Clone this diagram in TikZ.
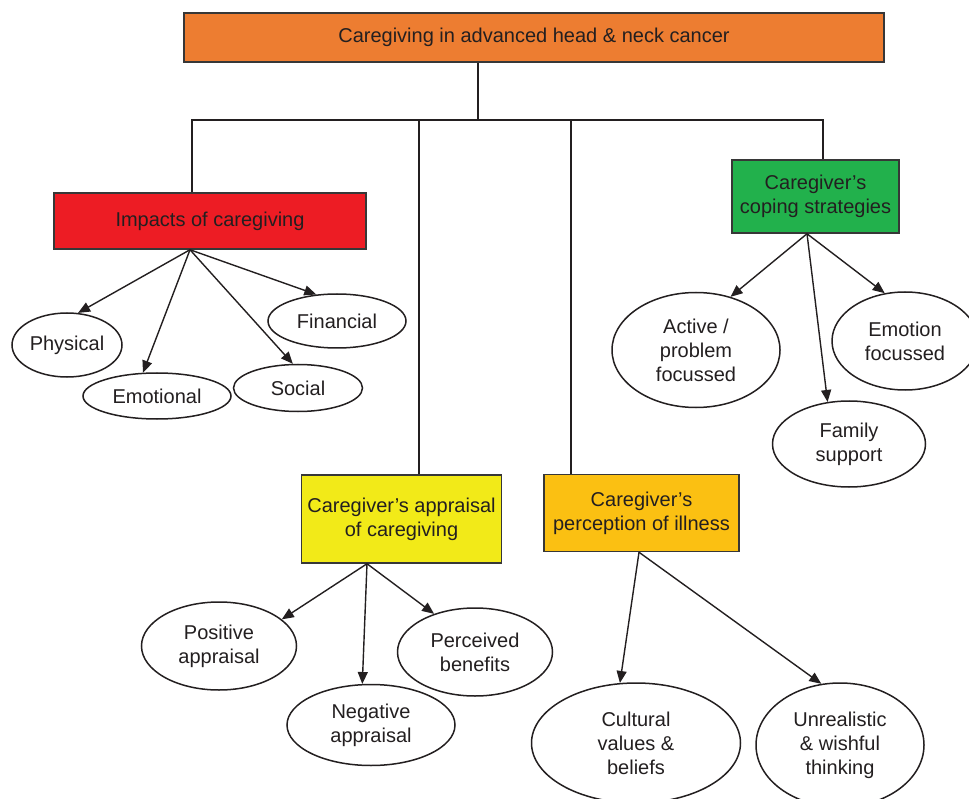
\documentclass[tikz,border=0pt]{standalone}
\usepackage{fontspec}
\setmainfont{Liberation Sans}
\usepackage{xcolor}
\definecolor{InkBlack}{RGB}{35, 31, 32}
\definecolor{BoxGrey}{RGB}{55, 55, 55}
\definecolor{RootOrange}{RGB}{237, 125, 49}
\definecolor{ImpactRed}{RGB}{237, 28, 36}
\definecolor{CopeGreen}{RGB}{34, 177, 76}
\definecolor{AppraiseYellow}{RGB}{242, 234, 24}
\definecolor{PerceiveAmber}{RGB}{251, 192, 18}
\usetikzlibrary{
    shapes.geometric,
    arrows.meta,
    positioning
    }
\tikzset{
    box/.style={draw=BoxGrey, line width=1.5pt, text=InkBlack, align=center, inner sep=2pt, font=\fontsize{20}{24}\selectfont},
    bubble/.style={ellipse, draw=InkBlack, line width=1.5pt, fill=white, text=InkBlack, align=center, inner sep=0pt, font=\fontsize{20}{24}\selectfont},
    tree/.style={InkBlack, line width=2.2pt},
    arr/.style={InkBlack, line width=1.4pt, -{Triangle[length=12pt,width=10pt]}}
}

\begin{document}
\begin{tikzpicture}[x=1pt, y=-1pt]

    \useasboundingbox (0,0) rectangle (969,799);

    %Root
    \node[box, fill=RootOrange, minimum width=700pt, minimum height=49pt] (top) at (534,37.5) {Caregiving in advanced head \& neck cancer};

    %Themes
    \node[box, fill=ImpactRed, minimum width=312pt, minimum height=56pt] (impacts) at (210,221) {Impacts of caregiving};
    \node[box, fill=CopeGreen, minimum width=167pt, minimum height=73pt] (coping) at (815.5,196.5) {Caregiver’s\\coping strategies};
    \node[box, fill=AppraiseYellow, minimum width=200pt, minimum height=88pt] (appraisal) at (401.5,519) {Caregiver’s appraisal\\of caregiving};
    \node[box, fill=PerceiveAmber, minimum width=195pt, minimum height=77pt] (perception) at (641.5,513) {Caregiver’s\\perception of illness};

    %Tree
    \coordinate (bus) at (478,120);
    \draw[tree] (top.south -| bus) -- (bus);
    \draw[tree] ([xshift=-18pt]impacts.north) |- ([xshift=7.5pt]coping.north |- bus) -- ([xshift=7.5pt]coping.north);
    \draw[tree] ([xshift=17.5pt]appraisal.north) -- ([xshift=17.5pt]appraisal.north |- bus);
    \draw[tree] ([xshift=-70.5pt]perception.north) -- ([xshift=-70.5pt]perception.north |- bus);

    %Impacts
    \node[bubble, minimum width=110pt, minimum height=64pt] (physical) at (67,345) {Physical};
    \node[bubble, minimum width=148pt, minimum height=46pt] (emotional) at (157,396) {Emotional};
    \node[bubble, minimum width=129pt, minimum height=47pt] (social) at (298,388) {Social};
    \node[bubble, minimum width=138pt, minimum height=54pt] (financial) at (337,321) {Financial};
    \coordinate (impacts-out) at ([xshift=-20pt]impacts.south);
    \draw[arr] (impacts-out) -- (physical.71);
    \draw[arr] (impacts-out) -- (emotional.121);
    \draw[arr] (impacts-out) -- (social.102);
    \draw[arr] (impacts-out) -- (financial.128);

    %Coping
    \node[bubble, minimum width=168pt, minimum height=115pt] (active) at (696,350) {Active /\\problem\\focussed};
    \node[bubble, minimum width=146pt, minimum height=98pt] (emotion) at (905,341) {Emotion\\focussed};
    \node[bubble, minimum width=153pt, minimum height=86pt] (family) at (849,444) {Family\\support};
    \coordinate (coping-out) at ([xshift=-8.5pt]coping.south);
    \draw[arr] (coping-out) -- (active.57);
    \draw[arr] (coping-out) -- (family.117);
    \draw[arr] (coping-out) -- (emotion.113);

    %Appraisal
    \node[bubble, minimum width=155pt, minimum height=88pt] (positive) at (219,646) {Positive\\appraisal};
    \node[bubble, minimum width=168pt, minimum height=81pt] (negative) at (371,725) {Negative\\appraisal};
    \node[bubble, minimum width=155pt, minimum height=88pt] (perceived) at (475,652) {Perceived\\benefits};
    \coordinate (appraisal-out) at ([xshift=-34.5pt]appraisal.south);
    \draw[arr] (appraisal-out) -- (positive.23);
    \draw[arr] (appraisal-out) -- (negative.102);
    \draw[arr] (appraisal-out) -- (perceived.137);

    %Perception
    \node[bubble, minimum width=209pt, minimum height=120pt] (cultural) at (636,743) {Cultural\\values \&\\beliefs};
    \node[bubble, minimum width=168pt, minimum height=124pt] (unrealistic) at (840,745) {Unrealistic\\\& wishful\\thinking};
    \coordinate (perception-out) at ([xshift=-2.5pt]perception.south);
    \draw[arr] (perception-out) -- (cultural.105);
    \draw[arr] (perception-out) -- (unrealistic.107);

\end{tikzpicture}
\end{document}
